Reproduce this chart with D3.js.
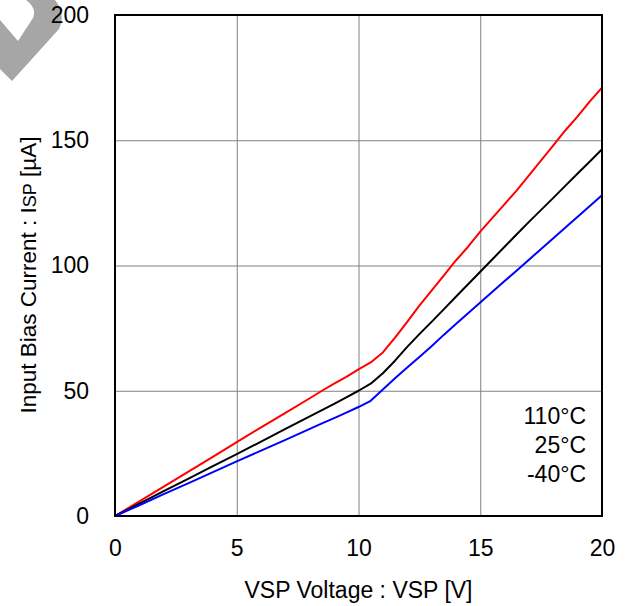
<!DOCTYPE html>
<html>
  <head>
    <meta http-equiv="Content-Type" content="text/html; charset=UTF-8">
    <style type="text/css">
      body { margin: 0; background: #fff; }
      text { font-family: 'Liberation Sans', Arial, sans-serif; fill: #000; }
    </style>
  </head>
  <body>
    <div id="canvas"></div>
    <script type="text/javascript" src="https://d3js.org/d3.v7.min.js"></script>
    <script type="text/javascript">
      // VSP voltage [V] sample points (shared by all three curves)
      var voltage = [0, 1, 2, 3, 4, 5, 6, 7, 8, 8.5, 9, 9.5, 10, 10.5, 11, 11.5, 12, 12.5, 13, 13.5,
                     14, 14.5, 15, 15.5, 16, 16.5, 17, 17.5, 18, 18.5, 19, 19.5, 20];
      // ISP [uA]
      var current110 = [0, 5.8, 11.7, 17.6, 23.5, 29.5, 35.4, 41.2, 47, 50, 52.8, 55.5, 58.5, 61.3, 65.3, 71.2, 77.5, 84, 90, 96,
                        102, 107.5, 113.5, 119, 124.5, 130, 136, 142, 148, 154, 159.5, 165.5, 171];
      var current25  = [0, 4.9, 9.9, 14.8, 19.8, 24.7, 29.7, 34.8, 39.8, 42.3, 44.8, 47.4, 50, 52.8, 57, 62, 67.5, 72.6, 77.5, 82.5,
                        87.5, 92.5, 97.5, 102.5, 107.5, 112.5, 117.4, 122.2, 127, 131.9, 136.7, 141.5, 146.4];
      var currentM40 = [0, 4.3, 8.7, 13, 17.4, 21.8, 26.1, 30.4, 34.8, 37, 39.1, 41.3, 43.5, 46, 50.5, 55, 59.3, 63.5, 67.8, 72.3,
                        76.6, 80.9, 85.2, 89.5, 93.8, 98, 102.3, 106.6, 110.9, 115.2, 119.5, 123.8, 128];
      var seriesNames = ['110°C', '25°C', '-40°C'];
      var seriesColors = ['#ff0000', '#000000', '#0000ff'];
      var xTicks = [0, 5, 10, 15, 20];
      var yTicks = [0, 50, 100, 150, 200];

      var draw = function () {
        var width = 625, height = 606;
        var pl = 115, pr = 602, pt = 15, pb = 516;

        var svg = d3.select('#canvas').append('svg')
                    .attr('width', width)
                    .attr('height', height);

        // grey watermark in the corner
        svg.append('path')
           .attr('d', 'M0,20 L18,41 L33,18 Q37,8 26,0 L55,0 Q66,14 59,29 L12,81 L0,69 Z')
           .attr('fill', '#a6a6a6');

        var x = d3.scaleLinear().domain([0, 20]).range([pl, pr]);
        var y = d3.scaleLinear().domain([0, 200]).range([pb, pt]);

        // grid
        svg.append('g').selectAll('line')
           .data(xTicks.slice(1, -1))
           .enter().append('line')
           .attr('x1', function (d) { return x(d) + 0.5; })
           .attr('x2', function (d) { return x(d) + 0.5; })
           .attr('y1', pt).attr('y2', pb)
           .attr('stroke', '#808080').attr('stroke-width', 1);
        svg.append('g').selectAll('line')
           .data(yTicks.slice(1, -1))
           .enter().append('line')
           .attr('y1', function (d) { return y(d) + 0.5; })
           .attr('y2', function (d) { return y(d) + 0.5; })
           .attr('x1', pl).attr('x2', pr)
           .attr('stroke', '#808080').attr('stroke-width', 1);

        // axes (labels only, frame drawn below)
        var xAxis = svg.append('g')
           .attr('transform', 'translate(0,' + pb + ')')
           .call(d3.axisBottom(x).tickValues(xTicks).tickSize(0).tickPadding(24));
        var yAxis = svg.append('g')
           .attr('transform', 'translate(' + pl + ',0)')
           .call(d3.axisLeft(y).tickValues(yTicks).tickSize(0).tickPadding(26));
        [xAxis, yAxis].forEach(function (a) {
          a.select('.domain').remove();
          a.selectAll('text')
           .style('font-family', "'Liberation Sans', Arial, sans-serif")
           .style('font-size', '23px')
           .attr('fill', '#000');
        });

        // curves
        var allSeries = [current110, current25, currentM40];
        var line = d3.line()
                     .x(function (d, i) { return x(voltage[i]); })
                     .y(function (d) { return y(d); });
        svg.append('g').selectAll('path')
           .data(allSeries)
           .enter().append('path')
           .attr('d', line)
           .attr('fill', 'none')
           .attr('stroke', function (d, i) { return seriesColors[i]; })
           .attr('stroke-width', 2)
           .attr('stroke-linejoin', 'round');

        // frame
        svg.append('rect')
           .attr('x', pl).attr('y', pt)
           .attr('width', pr - pl).attr('height', pb - pt)
           .attr('fill', 'none')
           .attr('stroke', '#000').attr('stroke-width', 2);

        // legend text, right aligned
        svg.append('g').selectAll('text')
           .data(seriesNames)
           .enter().append('text')
           .attr('x', 586)
           .attr('y', function (d, i) { return 424 + i * 29; })
           .attr('text-anchor', 'end')
           .style('font-size', '23px')
           .text(function (d) { return d; });

        // axis titles
        svg.append('text')
           .attr('x', (pl + pr) / 2)
           .attr('y', 598)
           .attr('text-anchor', 'middle')
           .style('font-size', '23px')
           .text('VSP Voltage : VSP [V]');

        var yt = svg.append('text')
           .attr('transform', 'translate(36,275) rotate(-90)')
           .attr('text-anchor', 'middle')
           .style('font-size', '22.5px');
        yt.append('tspan').text('Input Bias Current : I');
        yt.append('tspan').style('font-size', '18px').text('SP');
        yt.append('tspan').text(' [µA]');
      };

      draw();
    </script>
  </body>
</html>
